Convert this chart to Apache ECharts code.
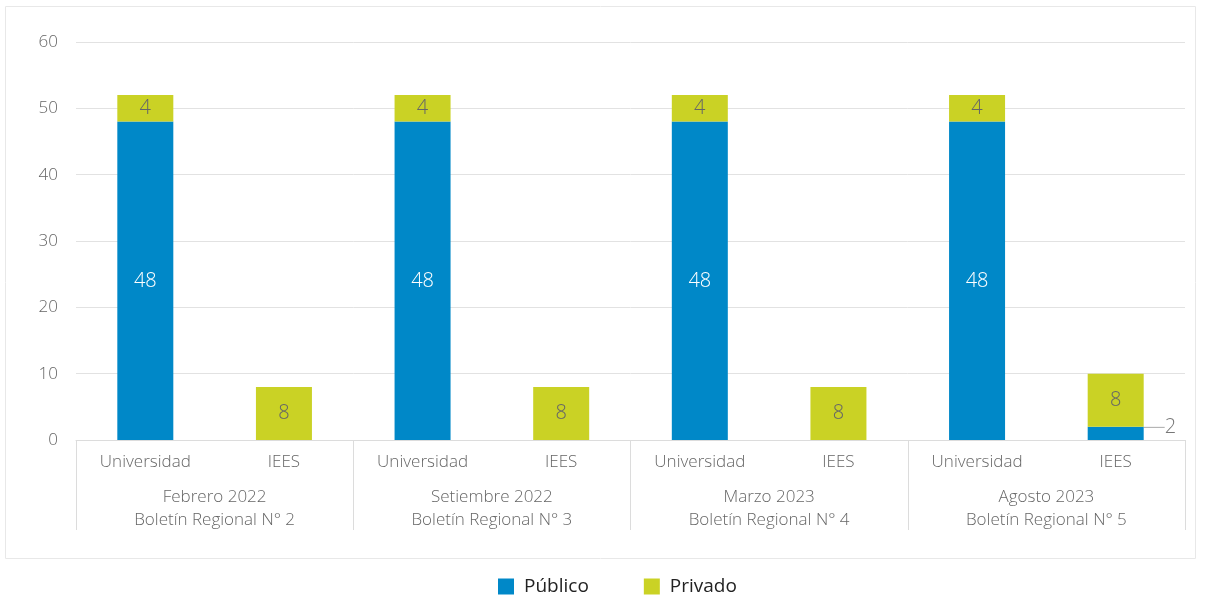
<!DOCTYPE html>
<html><head><meta charset="utf-8">
<script src="https://cdn.jsdelivr.net/npm/echarts@6/dist/echarts.min.js"></script>
<style>html,body{margin:0;padding:0;background:#fff}#c{width:1210px;height:599px}</style>
</head><body><div id="c"></div>
<script>
var categories = ['Universidad','IEES','Universidad','IEES','Universidad','IEES','Universidad','IEES'];
var groups = ['Febrero 2022\nBoletín Regional N° 2','Setiembre 2022\nBoletín Regional N° 3','Marzo 2023\nBoletín Regional N° 4','Agosto 2023\nBoletín Regional N° 5'];
var publico = [48, 0, 48, 0, 48, 0, 48, 2];
var privado = [4, 8, 4, 8, 4, 8, 4, 8];
var yTicks = {min: 0, max: 60, interval: 10};

var FONT = '"Open Sans"';
var chart = echarts.init(document.getElementById('c'));
var pubData = publico.map(function(v, i){
  if (i === 7) return {value: v, label: {show: true, position: 'right', color: '#777', distance: 4}, labelLine: {show: true, lineStyle: {color: '#aaa', width: 1}}};
  return v;
});
chart.setOption({
  textStyle: {fontFamily: FONT},
  graphic: [{type: 'rect', shape: {x: 5.5, y: 6.5, width: 1190, height: 552}, style: {fill: 'none', stroke: '#e8e8e8', lineWidth: 1}, silent: true}],
  grid: {left: 76, right: 25, top: 42, bottom: 159, containLabel: false},
  legend: {
    bottom: -2, left: 493, itemWidth: 16, itemHeight: 16, itemGap: 55, icon: 'rect',
    textStyle: {fontFamily: FONT, fontSize: 19, color: '#222', padding: [0, 0, 0, 5]},
    data: ['Público', 'Privado']
  },
  xAxis: [{
    type: 'category', data: categories, position: 'bottom',
    axisLine: {show: true, lineStyle: {color: '#dcdcdc'}},
    axisTick: {show: false},
    axisLabel: {color: '#666', fontSize: 17, fontWeight: 300, margin: 14, fontFamily: FONT, interval: 0}
  }, {
    type: 'category', data: groups, position: 'bottom', gridIndex: 0,
    axisLine: {show: false},
    axisTick: {show: true, length: 90, interval: 0, lineStyle: {color: '#dcdcdc'}},
    axisLabel: {color: '#666', fontSize: 17, fontWeight: 300, margin: 46, lineHeight: 23, fontFamily: FONT, interval: 0}
  }],
  yAxis: {
    type: 'value', min: yTicks.min, max: yTicks.max, interval: yTicks.interval,
    axisLine: {show: false}, axisTick: {show: false},
    axisLabel: {color: '#666', fontSize: 17, fontWeight: 300, margin: 18, fontFamily: FONT},
    splitLine: {lineStyle: {color: '#e2e2e2'}}
  },
  series: [{
    name: 'Público', type: 'bar', stack: 's', xAxisIndex: 0, barWidth: 56,
    itemStyle: {color: '#0088c8'},
    data: pubData,
    label: {show: true, position: 'inside', color: '#fff', fontSize: 20, fontWeight: 300, fontFamily: FONT,
      formatter: function(p){ return p.value ? String(p.value) : ''; }},
    labelLayout: function(p){ return p.dataIndex === 7 ? {dx: 17, dy: -6} : {}; }
  }, {
    name: 'Privado', type: 'bar', stack: 's', xAxisIndex: 0, barWidth: 56,
    itemStyle: {color: '#cad225'},
    data: privado,
    label: {show: true, position: 'inside', color: '#666', fontSize: 20, fontWeight: 300, fontFamily: FONT}
  }]
});
</script></body></html>
